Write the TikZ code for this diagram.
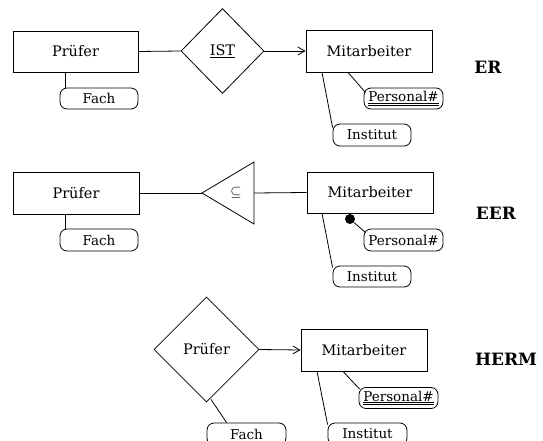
\documentclass[tikz,border=0pt]{standalone}
\usepackage{fontspec}
\setmainfont{DejaVu Serif}
\usetikzlibrary{shapes.geometric,arrows.meta}
\begin{document}
\begin{tikzpicture}[x=1pt,y=-1pt,line width=0.8pt,
  ent/.style={draw,rectangle,inner sep=0pt,minimum width=126pt,minimum height=42pt,font=\fontsize{14.5}{17}\selectfont},
  rel/.style={draw,diamond,inner sep=0pt,font=\fontsize{14.5}{17}\selectfont},
  attr/.style={draw,rectangle,rounded corners=7pt,inner sep=0pt,minimum width=78pt,minimum height=21pt,font=\fontsize{13.5}{16}\selectfont},
  lbl/.style={font=\fontsize{17}{20}\selectfont\bfseries},
  arr/.style={-{Straight Barb[length=7pt,width=8pt]}}]
\useasboundingbox (0,0) rectangle (543,441);
\clip (0,0) rectangle (543,441);
% ---------- ER ----------
\node[ent,minimum width=125pt,minimum height=41pt] (pr1) at (75.5,51.5) {Prüfer};
\node[rel,minimum width=83pt,minimum height=85pt] (ist) at (222.5,51) {\underline{IST}};
\node[ent] (mit1) at (369,51) {Mitarbeiter};
\node[attr] (fach1) at (99,98.5) {Fach};
\node[attr,minimum width=79pt] (pers1) at (403.5,98.5) {\underline{\underline{Personal\#}}};
\node[attr,minimum height=22pt] (inst1) at (372,135) {Institut};
\node[lbl] (er) at (488,67) {ER};
\draw (pr1.east) -- (ist.west);
\draw[arr] (ist.east) -- (mit1.west);
\draw ([shift={(6,0)}]fach1.north west |- pr1.south) -- ([shift={(6,0)}]fach1.north west);
\draw ([shift={(-21,0)}]mit1.south) -- ([shift={(2,5)}]pers1.north west);
\draw ([shift={(-47,0)}]mit1.south) -- ([shift={(0,4)}]inst1.north west);
% ---------- EER ----------
\node[ent] (pr2) at (76,193) {Prüfer};
\node[attr,minimum height=22pt] (fach2) at (99,240) {Fach};
\coordinate (tipL) at (202,193);
\coordinate (triR) at (254,193);
\draw (tipL) -- (254,162) -- (254,224) -- cycle;
\node[font=\fontsize{15}{18}\selectfont] (sub) at (236,193) {$\subseteq$};
\node[ent,minimum height=41pt] (mit2) at (370,192.5) {Mitarbeiter};
\node[attr,minimum width=79pt,minimum height=22pt] (pers2) at (403.5,240) {Personal\#};
\node[attr] (inst2) at (372,276.5) {Institut};
\node[lbl] (eer) at (496,213) {EER};
\node[circle,fill=black,inner sep=0pt,minimum size=10pt] (dot) at (350,219) {};
\draw (pr2.east) -- (tipL);
\draw (triR) -- (mit2.west);
\draw ([shift={(6,0)}]fach2.north west |- pr2.south) -- ([shift={(6,0)}]fach2.north west);
\draw (dot) -- ([shift={(2,4)}]pers2.north west);
\draw ([shift={(-48,0)}]mit2.south) -- ([shift={(0,2)}]inst2.north west);
% ---------- HERM ----------
\node[rel,minimum width=105pt,minimum height=105pt] (pr3) at (206.5,349.5) {Prüfer};
\node[ent] (mit3) at (364,350) {Mitarbeiter};
\node[attr,minimum width=79pt] (pers3) at (398.5,398) {\underline{\underline{Personal\#}}};
\node[attr,minimum width=79pt,minimum height=22pt] (inst3) at (367.5,434) {Institut};
\node[attr,minimum width=79pt,minimum height=22pt] (fach3) at (246.5,434) {Fach};
\node[lbl] (herm) at (506,359) {HERM};
\draw[arr] (pr3.east) -- (mit3.west);
\draw ([shift={(-21,0)}]mit3.south) -- ([shift={(1,2)}]pers3.north west);
\draw ([shift={(-47,0)}]mit3.south) -- ([shift={(0,2)}]inst3.north west);
\draw ([shift={(4.5,-3)}]pr3.south) -- ([shift={(20,0)}]fach3.north west);
\end{tikzpicture}
\end{document}
